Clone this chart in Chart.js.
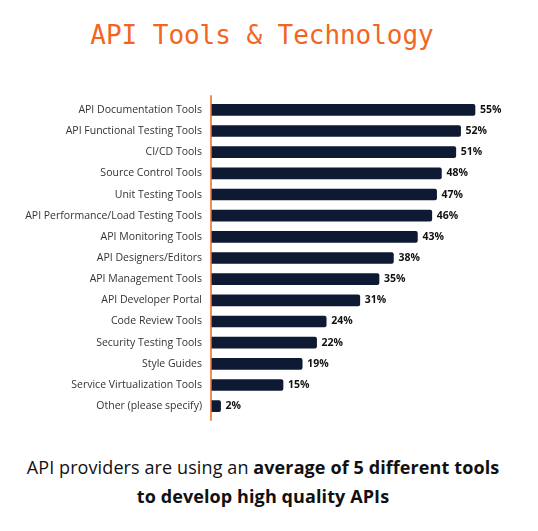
<!DOCTYPE html>
<html>
<head>
<meta charset="utf-8">
<script src="https://cdn.jsdelivr.net/npm/chart.js@4"></script>
<style>
	body { margin: 0; background: #fff; width: 538px; height: 531px; position: relative; overflow: hidden; }
	#title {
		position: absolute; top: 20px; left: -7px; width: 538px; text-align: center;
		font-family: 'DejaVu Sans Mono', 'Liberation Mono', monospace; font-size: 26px;
		color: #f2661f; letter-spacing: -0.05px;
	}
	#chart { position: absolute; top: 92px; left: 0; }
	#footer {
		position: absolute; top: 453px; left: -6px; width: 538px; text-align: center;
		font-family: 'Open Sans', sans-serif; font-size: 18px; line-height: 29px; color: #111;
		letter-spacing: 0.1px;
	}
	#footer b { font-weight: 700; }
</style>
</head>
<body>
<div id="title">API Tools &amp; Technology</div>
<canvas id="chart" width="538" height="332"></canvas>
<div id="footer">API providers are using an <b>average of 5 different tools</b><br><b>to develop high quality APIs</b></div>
<script>
// data
const categories = [
	'API Documentation Tools',
	'API Functional Testing Tools',
	'CI/CD Tools',
	'Source Control Tools',
	'Unit Testing Tools',
	'API Performance/Load Testing Tools',
	'API Monitoring Tools',
	'API Designers/Editors',
	'API Management Tools',
	'API Developer Portal',
	'Code Review Tools',
	'Security Testing Tools',
	'Style Guides',
	'Service Virtualization Tools',
	'Other (please specify)',
]
const percents = [55, 52, 51, 48, 47, 46, 43, 38, 35, 31, 24, 22, 19, 15, 2]

// orange axis line + value labels
const extras = {
	id: 'extras',
	afterDatasetsDraw(chart) {
		const ctx = chart.ctx
		const area = chart.chartArea
		ctx.save()
		ctx.strokeStyle = '#f2661f'
		ctx.lineWidth = 1.5
		ctx.beginPath()
		ctx.moveTo(area.left, area.top - 4)
		ctx.lineTo(area.left, area.bottom + 4)
		ctx.stroke()

		ctx.fillStyle = '#111'
		ctx.font = 'bold 10.5px "Open Sans", sans-serif'
		ctx.textBaseline = 'middle'
		ctx.textAlign = 'left'
		chart.getDatasetMeta(0).data.forEach((bar, i) => {
			ctx.fillText(percents[i] + '%', bar.x + 5, bar.y)
		})
		ctx.restore()
	},
}

new Chart(document.getElementById('chart'), {
	type: 'bar',
	data: {
		labels: categories,
		datasets: [
			{
				data: percents,
				backgroundColor: '#0e1a33',
				borderRadius: 2,
				borderSkipped: 'start',
				barThickness: 11,
			},
		],
	},
	options: {
		indexAxis: 'y',
		responsive: false,
		animation: false,
		layout: { padding: { top: 7, bottom: 7, right: 39, left: 0 } },
		plugins: { legend: { display: false }, tooltip: { enabled: false } },
		scales: {
			x: { display: false, min: 0, max: 60 },
			y: {
				afterFit(scale) { scale.width = 211 },
				grid: { display: false, drawBorder: false },
				border: { display: false },
				ticks: {
					color: '#333',
					padding: 1,
					font: { family: 'Open Sans', size: 10.5 },
				},
			},
		},
	},
	plugins: [extras],
})
</script>
</body>
</html>
